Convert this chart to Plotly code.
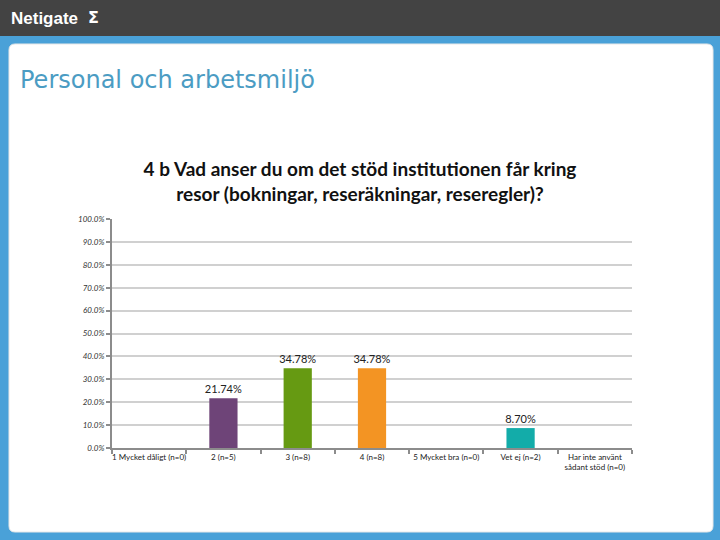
import plotly.graph_objects as go

categories = ["1 Mycket dåligt (n=0)", "2 (n=5)", "3 (n=8)", "4 (n=8)",
              "5 Mycket bra (n=0)", "Vet ej (n=2)", "Har inte använt<br>sådant stöd (n=0)"]
values = [0, 21.74, 34.78, 34.78, 0, 8.70, 0]
bar_colors = ["#4f81bd", "#6e4478", "#669a12", "#f39423", "#c0504d", "#13aca9", "#8064a2"]
y_ticks = [0, 10, 20, 30, 40, 50, 60, 70, 80, 90, 100]
y_tick_labels = [f"{v:.1f}%" for v in y_ticks]
labels = [f"{v:.2f}%" if v > 0 else "" for v in values]

W, H = 720, 540
L, R, T, B = 112, 632, 219, 448

def px(x):
    return (x - L) / (R - L)

def py(y):
    return (B - y) / (B - T)

fig = go.Figure()
fig.add_trace(go.Bar(
    x=categories, y=values, marker_color=bar_colors, marker_line_width=0, width=0.38,
    text=labels, textposition="outside", cliponaxis=False, constraintext="none",
    textfont=dict(family="Lato, Open Sans, sans-serif", size=11, color="#222222"),
    hoverinfo="skip",
))

shapes = []
# dark header
shapes.append(dict(type="rect", xref="paper", yref="paper", x0=px(0), x1=px(W), y0=py(36), y1=py(0),
                   fillcolor="#434343", line_width=0, layer="below"))
# white rounded panel
x0, x1, y0, y1, r = px(9), px(713), py(532), py(44), 6
rx = r / (R - L)
ry = r / (B - T)
path = (f"M {x0+rx},{y1} L {x1-rx},{y1} Q {x1},{y1} {x1},{y1-ry} "
        f"L {x1},{y0+ry} Q {x1},{y0} {x1-rx},{y0} L {x0+rx},{y0} Q {x0},{y0} {x0},{y0+ry} "
        f"L {x0},{y1-ry} Q {x0},{y1} {x0+rx},{y1} Z")
shapes.append(dict(type="path", xref="paper", yref="paper", path=path,
                   fillcolor="#ffffff", line=dict(color="#e8e8e8", width=1), layer="below"))

annotations = [
    dict(text="<b>Netigate</b>", x=px(9), y=py(18), xref="paper", yref="paper",
         xanchor="left", yanchor="middle", showarrow=False,
         font=dict(family="Liberation Sans, Arial, sans-serif", size=17, color="#ffffff")),
    dict(text="<b>Σ</b>", x=px(86), y=py(17), xref="paper", yref="paper",
         xanchor="left", yanchor="middle", showarrow=False,
         font=dict(family="DejaVu Sans, sans-serif", size=16, color="#ffffff")),
    dict(text="Personal och arbetsmiljö", x=px(18), y=py(80), xref="paper", yref="paper",
         xanchor="left", yanchor="middle", showarrow=False,
         font=dict(family="DejaVu Sans, Verdana, sans-serif", size=24, color="#4b9cc3")),
]

fig.update_layout(
    width=W, height=H,
    margin=dict(l=L, r=W - R, t=T, b=H - B, pad=0),
    paper_bgcolor="#4aa1d8", plot_bgcolor="#ffffff",
    showlegend=False, bargap=0.62,
    shapes=shapes, annotations=annotations,
    title=dict(text="<b>4 b Vad anser du om det stöd institutionen får kring<br>resor (bokningar, reseräkningar, reseregler)?</b>",
               x=0.5, xref="container", xanchor="center", y=1 - 176 / H, yref="container", yanchor="middle",
               font=dict(family="Lato, Open Sans, sans-serif", size=19, color="#111111")),
    xaxis=dict(showgrid=False, showline=True, linecolor="#8c8c8c", linewidth=2,
               ticks="outside", tickson="boundaries", ticklen=4, tickcolor="#8c8c8c", tickwidth=2,
               tickangle=0, tickfont=dict(family="Lato, Open Sans, sans-serif", size=8, color="#222222"),
               fixedrange=True),
    yaxis=dict(range=[0, 100], tickvals=y_ticks, ticktext=y_tick_labels,
               showgrid=True, gridcolor="#d0d0d0", gridwidth=2,
               showline=True, linecolor="#8c8c8c", linewidth=2, zeroline=False,
               ticks="outside", ticklen=4, tickcolor="#8c8c8c", tickwidth=2,
               tickfont=dict(family="Lato, Open Sans, sans-serif", size=8, color="#333333", style="italic"),
               fixedrange=True),
)

fig.write_html("out.html", config={"displayModeBar": False},
               post_script="document.body.style.margin='0';document.body.style.overflow='hidden';")
